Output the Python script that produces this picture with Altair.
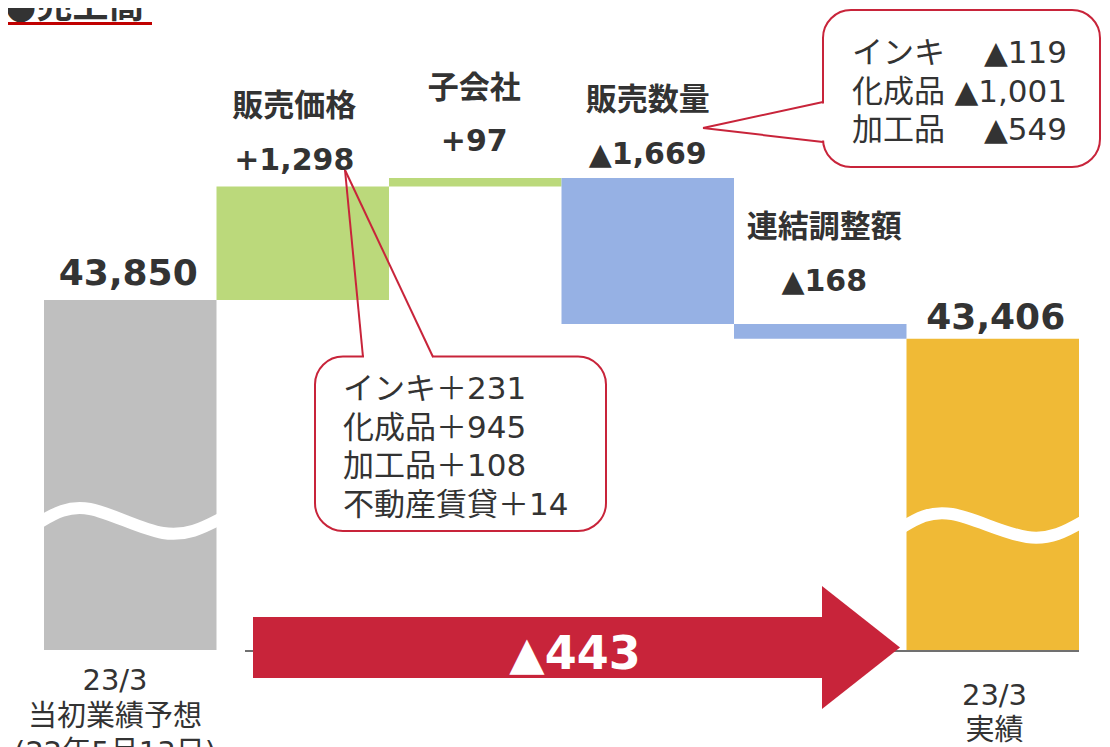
import altair as alt
import pandas as pd

# ---------------- data ----------------
start_value = 43850
end_value = 43406
step_names = ["販売価格", "子会社", "販売数量", "連結調整額"]
step_values = [1298, 97, -1669, -168]
start_lines = ["23/3", "当初業績予想", "(22年5月13日)"]
end_lines = ["23/3", "実績"]
total_change = -443
price_items = ["インキ", "化成品", "加工品", "不動産賃貸"]
price_values = [231, 945, 108, 14]
volume_items = ["インキ", "化成品", "加工品"]
volume_values = [-119, -1001, -549]
title_text = "●売上高"

# ---------------- styles / layout ----------------
GRAY, GREEN, BLUE, GOLD = "#BFBFBF", "#BBD97B", "#96B1E4", "#F0BA36"
RED = "#C8243A"
TXT = "#333333"
FONT = "DejaVu Sans, Noto Sans CJK JP"
W, H = 1094, 739
M = 8                      # page margin
X0, PXC = 44.0, 172.5      # page x of first bar edge, px per category
Y0, PXV = 300.0, 0.0875    # page y of start value, px per value unit
AXIS_MIN = 39850           # value where the (broken) axis starts


def ux(px):
    return (px - X0) / PXC


def vy(py):
    return start_value - (py - Y0) / PXV


def py(v):
    return Y0 - (v - start_value) * PXV


def ty(center, size):
    return vy(center + 0.07 * size)


XS = alt.Scale(domain=[ux(M), ux(M + W)], nice=False, zero=False)
YS = alt.Scale(domain=[vy(M + H), vy(M)], nice=False, zero=False)


def X(f):
    return alt.X(f, type="quantitative", scale=XS, axis=None)


def Y(f):
    return alt.Y(f, type="quantitative", scale=YS, axis=None)


def fmt(v):
    return f"+{v:,}" if v > 0 else f"▲{abs(v):,}"


# ---------------- bars ----------------
colors = [GRAY] + [GREEN if v > 0 else BLUE for v in step_values] + [GOLD]
rows = [dict(x0=0, x1=1, y0=AXIS_MIN, y1=start_value)]
tops = [start_value]
cum = start_value
for i, v in enumerate(step_values):
    rows.append(dict(x0=i + 1, x1=i + 2, y0=cum, y1=cum + v))
    tops.append(max(cum, cum + v))
    cum += v
rows.append(dict(x0=5, x1=6, y0=AXIS_MIN, y1=end_value))
tops.append(end_value)
bars = pd.DataFrame(rows)
bars["color"] = colors

bar_layer = alt.Chart(bars).mark_rect().encode(
    x=X("x0"), x2="x1", y=Y("y0"), y2="y1",
    color=alt.Color("color:N", scale=None))

# broken-axis waves
wave_pts = {
    "L": [(40, 522), (90, 509), (163, 533), (220, 519)],
    "R": [(902, 527.5), (952, 514), (1027, 537), (1083, 521.5)],
}
wave_df = pd.DataFrame([dict(g=g, x=ux(a), y=vy(b)) for g, pts in wave_pts.items() for a, b in pts])
wave_layer = alt.Chart(wave_df).mark_line(
    interpolate="natural", stroke="white", strokeWidth=12, strokeCap="butt").encode(
    x=X("x"), y=Y("y"), detail="g:N")

axis_df = pd.DataFrame([dict(x=ux(245), x2=ux(1079), y=vy(651))])
axis_layer = alt.Chart(axis_df).mark_rule(color="#404040", strokeWidth=1.5).encode(
    x=X("x"), x2="x2", y=Y("y"))

# ---------------- total-change arrow ----------------
arrow_body = alt.Chart(pd.DataFrame([dict(x=ux(253), x2=ux(823), y=vy(617), y2=vy(678))])).mark_rect(
    color=RED).encode(x=X("x"), x2="x2", y=Y("y"), y2="y2")
arrow_head = alt.Chart(pd.DataFrame([
    dict(x=ux(822), y=vy(586), y2=vy(709)),
    dict(x=ux(900), y=vy(647.5), y2=vy(647.5)),
])).mark_area(orient="vertical", color=RED).encode(x=X("x"), y=Y("y"), y2="y2")

# ---------------- labels ----------------
val_texts = [f"{start_value:,}"] + [fmt(v) for v in step_values] + [f"{end_value:,}"]
val_gap = [29, 28, 38, 25.5, 44.5, 23]
val_size = [36, 30, 30, 30, 30, 36]
val_dx = [-2, -8.5, -1, 0, 4, 3]
bold_rows = []
for i, t in enumerate(val_texts):
    c = py(tops[i]) - val_gap[i]
    xc = X0 + (i + 0.5) * PXC + val_dx[i]
    bold_rows.append(dict(text=t, x=ux(xc), y=ty(c, val_size[i]), size=val_size[i], color=TXT))
    if 1 <= i <= 4:
        bold_rows.append(dict(text=step_names[i - 1], x=ux(xc), y=ty(c - 53.5, 31), size=31, color=TXT))
bold_rows.append(dict(text=fmt(total_change), x=ux(575), y=ty(652, 46), size=46, color="white"))
bold_df = pd.DataFrame(bold_rows)

bot_rows = []
for j, t in enumerate(start_lines):
    bot_rows.append(dict(text=t, x=ux(115), y=ty(679 + 36 * j, 29), size=29, color=TXT))
for j, t in enumerate(end_lines):
    bot_rows.append(dict(text=t, x=ux(994.5), y=ty(694 + 34.5 * j, 29), size=29, color=TXT))
bot_df = pd.DataFrame(bot_rows)

# callouts
box_df = pd.DataFrame([
    dict(x=ux(315), x2=ux(606), y=vy(356.5), y2=vy(531)),
    dict(x=ux(823), x2=ux(1100), y=vy(10), y2=vy(167)),
])
cover_df = pd.DataFrame([
    dict(x=ux(364), x2=ux(432), y=vy(353), y2=vy(360)),
    dict(x=ux(820), x2=ux(826), y=vy(103.5), y2=vy(140.5)),
])
ptr_df = pd.DataFrame([
    dict(x=ux(345), y=vy(170), x2=ux(363), y2=vy(357)),
    dict(x=ux(345), y=vy(170), x2=ux(433), y2=vy(357)),
    dict(x=ux(703), y=vy(128), x2=ux(823), y2=vy(102)),
    dict(x=ux(703), y=vy(128), x2=ux(823), y2=vy(142)),
])
box_layer = alt.Chart(box_df).mark_rect(
    fill="white", stroke=RED, strokeWidth=2, cornerRadius=28).encode(
    x=X("x"), x2="x2", y=Y("y"), y2="y2")
cover_layer = alt.Chart(cover_df).mark_rect(color="white").encode(
    x=X("x"), x2="x2", y=Y("y"), y2="y2")
ptr_layer = alt.Chart(ptr_df).mark_rule(color=RED, strokeWidth=2).encode(
    x=X("x"), y=Y("y"), x2="x2", y2="y2")

left_rows = []
for j, (it, v) in enumerate(zip(price_items, price_values)):
    left_rows.append(dict(text=f"{it}＋{v:,}", x=ux(343), y=ty(388 + 38.5 * j, 31), size=31, color=TXT))
for j, it in enumerate(volume_items):
    left_rows.append(dict(text=it, x=ux(852), y=ty(52 + 38.5 * j, 31), size=31, color=TXT))
left_df = pd.DataFrame(left_rows)
right_df = pd.DataFrame([
    dict(text=f"▲{abs(v):,}", x=ux(1067), y=ty(52 + 38.5 * j, 31), size=31, color=TXT)
    for j, v in enumerate(volume_values)
])

title_df = pd.DataFrame([dict(text=title_text, x=ux(5), y=vy(18), size=36, color=TXT)])
uline_df = pd.DataFrame([dict(x=ux(2), x2=ux(152), y=vy(22), y2=vy(25))])


def text_layer(df, align="center", weight="normal", baseline="middle"):
    return alt.Chart(df).mark_text(
        align=align, baseline=baseline, font=FONT, fontWeight=weight).encode(
        x=X("x"), y=Y("y"), text=alt.Text("text:N"),
        size=alt.Size("size:Q", scale=None),
        color=alt.Color("color:N", scale=None))


uline_layer = alt.Chart(uline_df).mark_rect(color="#C00000").encode(
    x=X("x"), x2="x2", y=Y("y"), y2="y2")

chart = alt.layer(
    bar_layer, axis_layer, wave_layer, arrow_body, arrow_head,
    text_layer(bold_df, weight="bold"),
    text_layer(bot_df),
    box_layer, cover_layer, ptr_layer,
    text_layer(left_df, align="left"),
    text_layer(right_df, align="right"),
    text_layer(title_df, align="left", weight="bold", baseline="alphabetic"),
    uline_layer,
).properties(
    width=W, height=H, padding=0,
    autosize=alt.AutoSizeParams(type="none"),
    background="white",
).configure_view(stroke=None)

chart.save("out.html", embed_options={"renderer": "svg", "actions": False})
